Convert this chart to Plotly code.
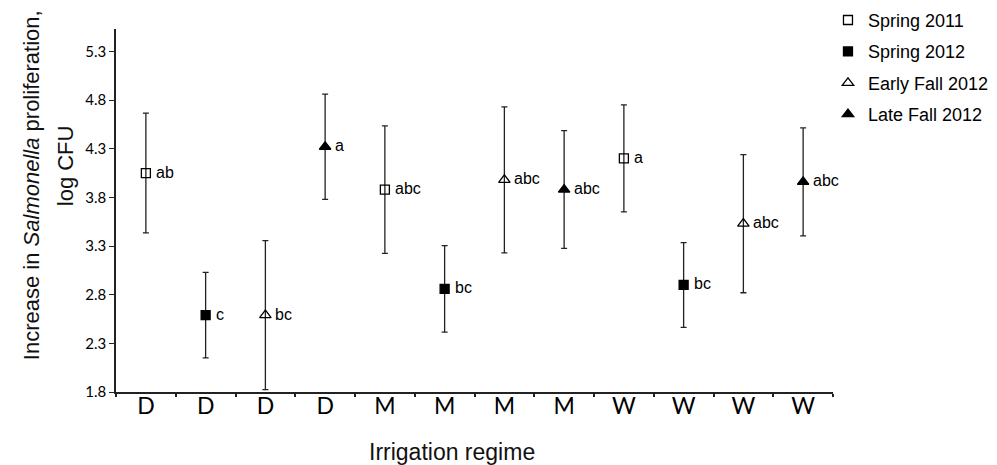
import plotly.graph_objects as go

# ---- data ----
regimes = ["D", "D", "D", "D", "M", "M", "M", "M", "W", "W", "W", "W"]
seasons = ["Spring 2011", "Spring 2012", "Early Fall 2012", "Late Fall 2012"]
# mean increase (log CFU) per position (x index 0..11)
means = [4.05, 2.59, 2.59, 4.32, 3.88, 2.86, 3.98, 3.88, 4.20, 2.90, 3.53, 3.96]
errors = [0.615, 0.44, 0.765, 0.54, 0.655, 0.445, 0.75, 0.605, 0.55, 0.435, 0.71, 0.555]
letters = ["ab", "c", "bc", "a", "abc", "bc", "abc", "abc", "a", "bc", "abc", "abc"]
season_of = [0, 1, 2, 3, 0, 1, 2, 3, 0, 1, 2, 3]
y_ticks = [1.8, 2.3, 2.8, 3.3, 3.8, 4.3, 4.8, 5.3]

symbols = ["square-open", "square", "triangle-up-open", "triangle-up"]
sizes = [9, 9, 10, 10]
ARIAL = "Liberation Sans, Arial"

fig = go.Figure()
for s, name in enumerate(seasons):
    idx = [i for i in range(len(means)) if season_of[i] == s]
    fig.add_trace(go.Scatter(
        x=idx, y=[means[i] for i in idx], name=name, mode="markers",
        legendgroup=name,
        marker=dict(symbol=symbols[s], size=sizes[s], color="black",
                    line=dict(color="black", width=1.3)),
        error_y=dict(type="data", array=[errors[i] for i in idx],
                     color="#222", thickness=1.3, width=3),
    ))

for i, (m, t) in enumerate(zip(means, letters)):
    fig.add_annotation(x=i, y=m, text=t, showarrow=False, xanchor="left",
                       xshift=8, yshift=1,
                       font=dict(family=ARIAL, size=16, color="black"))

fig.add_annotation(xref="paper", yref="paper", x=-0.1185, y=0.570,
                   text="Increase in <i>Salmonella</i> proliferation,",
                   textangle=-90, showarrow=False, xanchor="center", yanchor="middle",
                   font=dict(family=ARIAL, size=22, color="#111"))
fig.add_annotation(xref="paper", yref="paper", x=-0.0711, y=0.622,
                   text="log CFU",
                   textangle=-90, showarrow=False, xanchor="center", yanchor="middle",
                   font=dict(family=ARIAL, size=22, color="#111"))
fig.add_annotation(xref="paper", yref="paper", x=0.469, y=-0.166,
                   text="Irrigation regime", showarrow=False,
                   xanchor="center", yanchor="middle",
                   font=dict(family=ARIAL, size=23, color="#111"))

fig.update_layout(
    width=989, height=457,
    margin=dict(l=108, r=164, t=21, b=73, autoexpand=False),
    paper_bgcolor="white", plot_bgcolor="white",
    showlegend=True,
    legend=dict(x=0.993, y=1.075, xanchor="left", yanchor="top",
                font=dict(family=ARIAL, size=18, color="black"),
                tracegroupgap=5, traceorder="grouped",
                bgcolor="rgba(0,0,0,0)"),
    xaxis=dict(
        range=[-0.5, 11.5], tickvals=list(range(len(regimes))), ticktext=regimes,
        ticks="", showgrid=False, zeroline=False,
        showline=True, linecolor="#222", linewidth=1.5,
        ticklabelstandoff=-7,
        tickfont=dict(family="Lato, Liberation Sans", size=23, color="black"),
        minor=dict(tickvals=[i - 0.5 for i in range(len(regimes) + 1)],
                   ticks="outside", ticklen=3, tickcolor="#222", tickwidth=1.5,
                   showgrid=False),
    ),
    yaxis=dict(
        range=[1.8, 5.53], tickvals=y_ticks, ticktext=[f"{v:.1f}" for v in y_ticks],
        ticks="outside", ticklen=5, tickcolor="#222", tickwidth=1.3,
        showgrid=False, zeroline=False,
        showline=True, linecolor="#222", linewidth=1.5,
        tickfont=dict(family="Lato, Liberation Sans", size=15, color="black"),
    ),
)

fig.write_html("out.html")
